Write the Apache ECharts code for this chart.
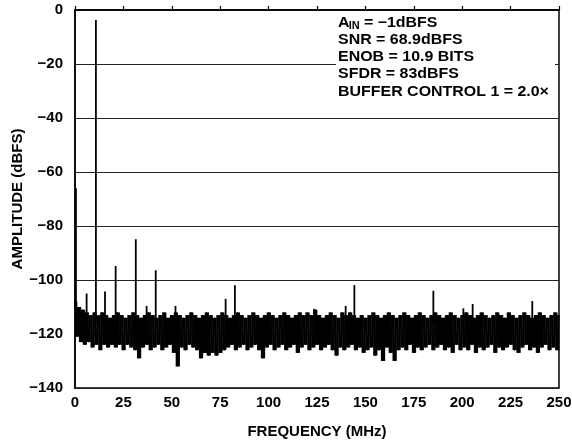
<!DOCTYPE html>
<html>
<head>
<meta charset="utf-8">
<script src="https://cdn.jsdelivr.net/npm/echarts@6/dist/echarts.min.js"></script>
<style>html,body{margin:0;padding:0;background:#fff}#c{width:572px;height:444px}</style>
</head>
<body>
<div id="c"></div>
<script>
// Axis ticks
const xTicks = [0, 25, 50, 75, 100, 125, 150, 175, 200, 225, 250];
const yTicks = [0, -20, -40, -60, -80, -100, -120, -140];

// Noise floor, one value per MHz (0..250), alternating upper/lower edge
const noiseStepMHz = 1;
const noise = [
  -108,-121,-110,-123,-111,-124,-112,-123,-113,-125,
  -112,-124,-113,-126,-112,-124,-113,-125,-114,-124,
  -113,-125,-112,-124,-113,-126,-114,-124,-113,-125,
  -112,-126,-113,-129,-114,-125,-113,-124,-112,-126,
  -113,-125,-114,-124,-113,-126,-112,-125,-114,-124,
  -113,-127,-112,-132,-113,-125,-114,-126,-113,-124,
  -112,-125,-113,-126,-114,-129,-113,-127,-112,-128,
  -113,-127,-114,-128,-113,-127,-112,-126,-113,-125,
  -114,-124,-113,-126,-112,-125,-113,-124,-114,-126,
  -113,-125,-112,-124,-113,-126,-114,-129,-113,-125,
  -112,-124,-113,-126,-114,-125,-113,-124,-112,-126,
  -113,-125,-114,-124,-113,-127,-112,-125,-113,-124,
  -112,-126,-113,-125,-111,-124,-113,-126,-114,-125,
  -113,-124,-112,-126,-113,-128,-114,-125,-112,-126,
  -113,-125,-112,-124,-113,-126,-114,-125,-113,-127,
  -114,-126,-113,-125,-112,-128,-113,-126,-114,-130,
  -113,-125,-112,-127,-113,-130,-114,-126,-113,-125,
  -112,-126,-113,-124,-114,-127,-113,-125,-112,-126,
  -113,-125,-114,-124,-113,-126,-112,-125,-113,-124,
  -114,-126,-113,-125,-112,-127,-113,-124,-114,-126,
  -113,-125,-112,-126,-113,-124,-114,-127,-113,-125,
  -112,-126,-113,-125,-114,-124,-113,-127,-112,-125,
  -113,-126,-114,-125,-112,-124,-113,-126,-114,-127,
  -113,-125,-112,-124,-113,-126,-114,-125,-113,-127,
  -112,-125,-113,-124,-114,-126,-113,-125,-112,-126,
  -113
];

// Spurs (DC, fundamental, harmonics and other tones)
const spurFreq = [0.5, 6.0, 10.8, 15.5, 21.0, 31.4, 37.0, 41.7, 51.9, 77.8, 82.6, 123.6, 139.8, 144.3, 185.1, 200.6, 205.4, 236.2];
const spurPeak = [-66, -105, -3.7, -104.3, -94.8, -84.9, -109.6, -96.4, -109.6, -107, -101.9, -110.7, -109.6, -101.9, -104, -110.5, -108.9, -107.8];
const spurBase = -116;

const infoLines = ['SNR = 68.9dBFS', 'ENOB = 10.9 BITS', 'SFDR = 83dBFS', 'BUFFER CONTROL 1 = 2.0×'];

// each column spans the range between two consecutive noise readings
const noiseCols = noise.slice(0, -1).map((v, i) => [i * noiseStepMHz, v, noise[i + 1]]);
const noiseLine = noise.map((v, i) => [i * noiseStepMHz, v]);
const spurData = spurFreq.map((f, i) => [f, spurPeak[i]]);

const FONT = '"Liberation Sans", Arial, sans-serif';
const fmtMinus = v => (v < 0 ? '\u2212' + (-v) : String(v));

const chart = echarts.init(document.getElementById('c'), null, {renderer: 'canvas'});
const tx = 338, ty0 = 22.5, dy = 17.3, SX = 1.1;
const infoFont = 'bold 14.5px ' + FONT;
const graphics = [
  {type: 'rect', shape: {x: tx - 2, y: 12, width: 555 - (tx - 2), height: 90}, style: {fill: '#fff'}, z: 50},
  {type: 'text', x: tx, y: ty0, scaleX: SX, style: {text: 'A', font: infoFont, fill: '#000', verticalAlign: 'middle'}, z: 51},
  {type: 'text', x: tx + 10.8, y: ty0 + 4, scaleX: SX, style: {text: 'IN', font: 'bold 10px ' + FONT, fill: '#000', verticalAlign: 'middle'}, z: 51},
  {type: 'text', x: tx + 21.5, y: ty0, scaleX: SX, style: {text: ' = \u22121dBFS', font: infoFont, fill: '#000', verticalAlign: 'middle'}, z: 51}
];
infoLines.forEach((t, i) => {
  graphics.push({type: 'text', x: tx, y: ty0 + dy * (i + 1), scaleX: SX, style: {text: t, font: infoFont, fill: '#000', verticalAlign: 'middle'}, z: 51});
});

const labelStyle = {fontFamily: FONT, fontWeight: 'bold', fontSize: 15, color: '#000'};

chart.setOption({
  animation: false,
  backgroundColor: '#fff',
  grid: {left: 75, top: 10, width: 484, height: 378, show: true, borderColor: '#000', borderWidth: 1.5, backgroundColor: 'transparent', containLabel: false, outerBoundsMode: 'none'},
  xAxis: {
    type: 'value', min: xTicks[0], max: xTicks[xTicks.length - 1], interval: 25,
    name: 'FREQUENCY (MHz)', nameLocation: 'middle', nameGap: 36, nameMoveOverlap: false,
    nameTextStyle: labelStyle,
    axisLine: {show: true, lineStyle: {color: '#000', width: 1.5}},
    axisTick: {show: true, inside: true, length: 4, lineStyle: {color: '#000', width: 1.2}},
    axisLabel: Object.assign({margin: 7}, labelStyle),
    splitLine: {show: false}
  },
  yAxis: {
    type: 'value', min: yTicks[yTicks.length - 1], max: yTicks[0], interval: 20,
    name: 'AMPLITUDE (dBFS)', nameLocation: 'middle', nameGap: 50, nameRotate: 90, nameMoveOverlap: false,
    nameTextStyle: labelStyle,
    axisLine: {show: true, lineStyle: {color: '#000', width: 1.5}},
    axisTick: {show: false},
    axisLabel: Object.assign({margin: 12, formatter: fmtMinus}, labelStyle),
    splitLine: {show: true, lineStyle: {color: '#222', width: 1.2}}
  },
  graphic: graphics,
  series: [
    {
      type: 'custom', data: noiseCols, z: 3,
      renderItem: (params, api) => {
        const f = api.value(0), a = api.value(1), b = api.value(2);
        const p0 = api.coord([f, Math.max(a, b)]);
        const p1 = api.coord([f + noiseStepMHz, Math.min(a, b)]);
        return {type: 'rect', shape: {x: p0[0], y: p0[1], width: p1[0] - p0[0] + 0.4, height: p1[1] - p0[1]}, style: {fill: '#000'}};
      }
    },
    {
      type: 'line', data: noiseLine, symbol: 'none', z: 3,
      lineStyle: {color: '#000', width: 1}
    },
    {
      type: 'custom', data: spurData, z: 4,
      renderItem: (params, api) => {
        const p0 = api.coord([api.value(0), spurBase]);
        const p1 = api.coord([api.value(0), api.value(1)]);
        return {type: 'line', shape: {x1: p0[0], y1: p0[1], x2: p1[0], y2: p1[1]}, style: {stroke: '#000', lineWidth: 1.8}};
      }
    }
  ]
});
</script>
</body>
</html>
